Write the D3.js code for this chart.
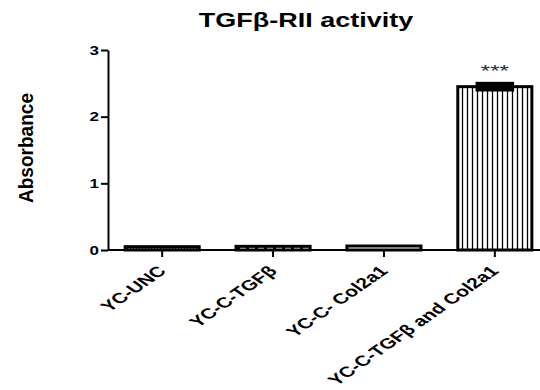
<!DOCTYPE html>
<html>
<head>
<meta charset="utf-8">
<script src="https://cdn.jsdelivr.net/npm/d3@7"></script>
<style>
  body { margin: 0; background: #fff; }
  svg { display: block; font-family: "Liberation Sans", Arial, sans-serif; }
  .axis path, .axis line { stroke: #000; stroke-width: 2; }
</style>
</head>
<body>
<svg class="tgf" width="540" height="390"></svg>
<script>
var categories = ["YC-UNC", "YC-C-TGF\u03b2", "YC-C- Col2a1", "YC-C-TGF\u03b2 and Col2a1"];
var means = [0.05, 0.055, 0.06, 2.45];
var errors = [0, 0, 0, 0.05];
var yTicks = [0, 1, 2, 3];
var stars = ["", "", "", "***"];

var svg = d3.select("svg.tgf"),
  squash = 0.7;

var data = categories.map(function(c, i) {
  return {cat: c, mean: means[i], err: errors[i], star: stars[i], idx: i};
});

var x = d3.scaleBand().domain(categories).range([107, 550]).paddingInner(0.305).paddingOuter(0.15),
  y = d3.scaleLinear().domain([0, 3]).range([250, 50]);

// fill patterns, one per bar
var defs = svg.append("defs");
var patterns = [
  {id: "p0", w: 3, sw: 1.3},
  {id: "p1", w: 9, sw: 3},
  {id: "p2", w: 3, sw: 0},
  {id: "p3", w: 5, sw: 1.3}
];
patterns.forEach(function(p) {
  var pat = defs.append("pattern")
    .attr("id", p.id)
    .attr("patternUnits", "userSpaceOnUse")
    .attr("width", p.w)
    .attr("height", p.w);
  pat.append("rect").attr("width", p.w).attr("height", p.w).attr("fill", "#fff");
  if (p.sw > 0) {
    pat.append("line")
      .attr("x1", p.w / 2).attr("x2", p.w / 2)
      .attr("y1", 0).attr("y2", p.w)
      .attr("stroke", "#000")
      .attr("stroke-width", p.sw);
  }
});

// title
svg.append("text")
  .attr("transform", "translate(306,27) scale(1," + 0.72 + ")")
  .attr("text-anchor", "middle")
  .style("font-size", "27px")
  .style("font-weight", "bold")
  .text("TGF\u03b2-RII activity");

// y label
svg.append("text")
  .attr("transform", "translate(33,148) rotate(-90)")
  .attr("text-anchor", "middle")
  .attr("textLength", 110)
  .attr("lengthAdjust", "spacingAndGlyphs")
  .style("font-size", "21px")
  .style("font-weight", "bold")
  .text("Absorbance");

// bars
var bars = svg.append("g");
bars.selectAll(".bar")
  .data(data)
  .enter().append("rect")
  .attr("class", "bar")
  .attr("x", function(d) { return x(d.cat) + 1.5; })
  .attr("y", function(d) { return y(d.mean); })
  .attr("width", x.bandwidth() - 3)
  .attr("height", function(d) { return y(0) - y(d.mean); })
  .attr("fill", function(d) { return "url(#p" + d.idx + ")"; })
  .attr("stroke", "#000")
  .attr("stroke-width", 3);

// error bars
var capW = x.bandwidth() / 2;
var eb = bars.selectAll(".err")
  .data(data.filter(function(d) { return d.err > 0; }))
  .enter().append("g")
  .attr("class", "err");
eb.append("line")
  .attr("x1", function(d) { return x(d.cat) + x.bandwidth() / 2; })
  .attr("x2", function(d) { return x(d.cat) + x.bandwidth() / 2; })
  .attr("y1", function(d) { return y(d.mean + d.err); })
  .attr("y2", function(d) { return y(d.mean - d.err); })
  .attr("stroke", "#000").attr("stroke-width", 3);
eb.append("rect")
  .attr("x", function(d) { return x(d.cat) + (x.bandwidth() - capW) / 2; })
  .attr("y", function(d) { return y(d.mean + d.err) - 1.5; })
  .attr("width", capW)
  .attr("height", function(d) { return y(d.mean - d.err) - y(d.mean + d.err) + 3; })
  .attr("fill", "#000");

// significance stars
svg.append("g").selectAll("text")
  .data(data)
  .enter().append("text")
  .attr("transform", function(d) {
    return "translate(" + (x(d.cat) + x.bandwidth() / 2) + "," + (y(d.mean + d.err) + 1) + ") scale(1," + squash + ")";
  })
  .attr("y", -10)
  .attr("text-anchor", "middle")
  .attr("fill", "#1c2a48")
  .style("font-size", "24px")
  .text(function(d) { return d.star; });

// y axis
var gy = svg.append("g")
  .attr("class", "axis axis--y")
  .attr("transform", "translate(108,0)")
  .call(d3.axisLeft(y).tickValues(yTicks).tickFormat(d3.format("d")).tickSize(7).tickSizeOuter(0));
gy.selectAll("text")
  .attr("x", -9)
  .attr("dy", "0.36em")
  .attr("transform", "scale(1," + squash + ")")
  .style("font-size", "17px")
  .style("font-weight", "bold")
  .attr("fill", "#000");

// x axis
var gx = svg.append("g")
  .attr("class", "axis axis--x")
  .attr("transform", "translate(0,250)")
  .call(d3.axisBottom(x).tickSize(7).tickSizeOuter(0));
gx.select(".domain").attr("d", "M108,0H540");
gx.selectAll("text")
  .attr("y", 0)
  .attr("dy", 0)
  .attr("transform", "translate(5,22) scale(1," + squash + ") rotate(-45)")
  .style("text-anchor", "end")
  .style("font-size", "21px")
  .style("font-weight", "bold")
  .attr("fill", "#000");
</script>
</body>
</html>
